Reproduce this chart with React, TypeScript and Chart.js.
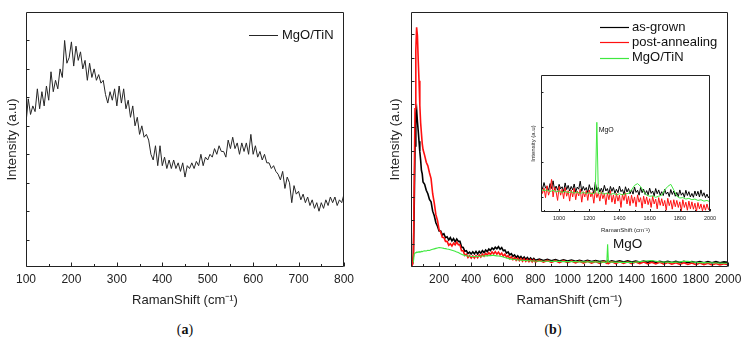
import React, { useEffect, useRef } from "react";
import { Chart, registerables } from "chart.js";
Chart.register(...registerables);

const FONT = "'Liberation Sans', Arial, Helvetica, sans-serif";
Chart.defaults.font.family = FONT;
Chart.defaults.color = "#222";

// ---------- Panel (a): MgO/TiN ----------
const X_A = [
  100,105,110,115,120,125,130,135,140,145,
  150,155,160,165,170,175,180,185,190,195,
  200,205,210,215,220,225,230,235,240,245,
  250,255,260,265,270,275,280,285,290,295,
  300,305,310,315,320,325,330,335,340,345,
  350,355,360,365,370,375,380,385,390,395,
  400,405,410,415,420,425,430,435,440,445,
  450,455,460,465,470,475,480,485,490,495,
  500,505,510,515,520,525,530,535,540,545,
  550,555,560,565,570,575,580,585,590,595,
  600,605,610,615,620,625,630,635,640,645,
  650,655,660,665,670,675,680,685,690,695,
  700,705,710,715,720,725,730,735,740,745,
  750,755,760,765,770,775,780,785,790,795,
  800
];
const Y_A_MGO_TIN = [
  5.1,5.95,5.4,5.7,5.5,6.3,5.6,6.2,5.7,6.4,
  5.9,6.9,6.2,6.6,6.3,7.0,6.7,8.0,7.2,7.4,
  7.95,7.1,7.8,7.3,7.6,7.0,7.3,6.6,7.2,6.7,
  7.0,6.6,6.8,6.5,6.6,6.1,5.8,6.2,5.9,6.3,
  5.7,6.4,5.8,6.3,5.6,5.9,5.3,5.7,5.0,5.3,
  4.7,5.0,4.6,4.7,4.5,4.0,3.8,4.3,3.6,4.3,
  3.6,3.9,3.5,3.8,3.5,3.8,3.5,3.7,3.4,3.7,
  3.2,3.6,3.5,3.7,3.5,3.75,3.6,4.0,3.6,3.9,
  3.8,4.0,3.9,4.2,4.0,4.3,4.1,4.1,3.9,4.5,
  4.2,4.6,4.2,4.4,4.0,4.4,4.1,4.4,4.0,4.7,
  4.0,4.3,3.9,4.1,3.8,4.0,3.7,3.7,3.5,3.6,
  3.4,3.3,3.1,3.4,2.8,3.2,3.0,2.3,2.9,2.6,
  2.7,2.4,2.6,2.3,2.5,2.2,2.4,2.1,2.3,2.0,
  2.3,2.1,2.4,2.2,2.5,2.3,2.5,2.2,2.4,2.3,
  2.6
];
const X_A_TICKS = [100, 200, 300, 400, 500, 600, 700, 800];
const X_A_MINOR = [150, 250, 350, 450, 550, 650, 750];
const Y_A_TICKS = [1, 2, 3, 4, 5, 6, 7, 8];

// ---------- Panel (b): main ----------
const X_B = [
  25,30,35,40,45,50,55,60,65,70,75,80,85,90,95,100,
  110,120,130,140,150,160,170,180,190,200,
  210,220,230,240,250,260,270,280,290,300,
  310,320,330,340,350,360,370,380,390,400,
  410,420,430,440,450,460,470,480,490,500,
  510,520,530,540,550,560,570,580,590,600,
  610,620,630,640,650,660,670,680,690,700,
  710,720,730,740,750,760,770,780,790,800,
  825,850,875,900,925,950,975,1000,
  1025,1050,1075,1100,1125,1150,1175,1200,
  1225,1245,1250,1255,1275,1300,1325,1350,1375,1400,
  1425,1450,1475,1500,1525,1550,1575,1600,
  1625,1650,1675,1700,1725,1750,1775,1800,
  1825,1850,1875,1900,1925,1950,1975,2000
];
const Y_B_AS_GROWN = [
  0.22,0.12,0.15,0.5,2.6,5.2,6.6,6.78,6.25,5.85,5.4,4.95,4.6,4.15,4.0,3.65,
  3.55,3.3,3.15,2.9,2.8,2.4,2.2,1.9,1.75,1.55,
  1.55,1.38,1.43,1.26,1.3,1.16,1.26,1.12,1.22,1.08,
  1.2,1.1,1.1,0.86,0.84,0.68,0.7,0.58,0.64,0.56,
  0.65,0.56,0.67,0.56,0.67,0.59,0.7,0.62,0.73,0.66,
  0.77,0.71,0.82,0.75,0.85,0.78,0.87,0.76,0.83,0.7,
  0.73,0.6,0.65,0.52,0.57,0.46,0.52,0.41,0.48,0.38,
  0.45,0.35,0.43,0.33,0.41,0.31,0.39,0.3,0.37,0.29,
  0.34,0.28,0.33,0.27,0.32,0.26,0.31,0.26,
  0.3,0.25,0.29,0.24,0.29,0.24,0.28,0.24,
  0.27,0.23,0.27,0.22,0.27,0.22,0.26,0.21,0.26,0.21,
  0.25,0.21,0.25,0.2,0.25,0.2,0.24,0.2,
  0.24,0.19,0.24,0.19,0.24,0.19,0.23,0.19,
  0.23,0.18,0.23,0.18,0.23,0.18,0.22,0.2
];
const Y_B_POST_ANNEALING = [
  0.2,0.1,0.12,0.6,3.5,6.8,9.3,10.3,9.95,8.9,8.0,6.95,6.2,5.75,5.3,5.05,
  4.8,4.5,4.35,4.05,3.8,3.15,2.75,2.25,2.0,1.6,
  1.5,1.28,1.27,1.1,1.1,0.93,1.0,0.9,1.03,0.95,
  1.07,0.96,0.95,0.7,0.7,0.5,0.55,0.41,0.49,0.38,
  0.48,0.38,0.49,0.4,0.52,0.43,0.55,0.47,0.59,0.51,
  0.62,0.53,0.65,0.56,0.66,0.55,0.64,0.52,0.6,0.47,
  0.55,0.42,0.49,0.36,0.44,0.32,0.4,0.29,0.38,0.27,
  0.36,0.25,0.35,0.24,0.33,0.23,0.32,0.22,0.31,0.21,
  0.29,0.21,0.28,0.2,0.27,0.19,0.27,0.19,
  0.26,0.18,0.25,0.17,0.25,0.17,0.24,0.16,
  0.24,0.16,0.23,0.15,0.23,0.15,0.22,0.15,0.22,0.14,
  0.21,0.14,0.21,0.13,0.2,0.13,0.2,0.12,
  0.19,0.12,0.18,0.11,0.18,0.11,0.17,0.1,
  0.17,0.1,0.16,0.09,0.15,0.09,0.14,0.1
];
const Y_B_MGO_TIN = [
  null,null,null,0.2,0.55,0.6,0.62,0.64,0.63,0.65,0.64,0.66,0.65,0.67,0.66,0.68,
  0.7,0.69,0.72,0.71,0.74,0.76,0.78,0.8,0.82,0.84,
  0.83,0.82,0.8,0.79,0.77,0.76,0.74,0.72,0.7,0.68,
  0.64,0.62,0.58,0.55,0.52,0.5,0.48,0.47,0.46,0.45,
  0.45,0.44,0.45,0.45,0.46,0.46,0.47,0.47,0.48,0.48,
  0.49,0.49,0.5,0.5,0.49,0.48,0.47,0.46,0.45,0.43,
  0.41,0.39,0.37,0.35,0.34,0.33,0.32,0.31,0.3,0.3,
  0.29,0.29,0.28,0.28,0.27,0.27,0.27,0.26,0.26,0.26,
  0.25,0.25,0.25,0.24,0.24,0.24,0.23,0.23,
  0.23,0.23,0.22,0.22,0.22,0.22,0.22,0.21,
  0.21,0.2,0.98,0.22,0.21,0.21,0.2,0.2,0.2,0.2,
  0.21,0.23,0.25,0.27,0.28,0.25,0.22,0.21,
  0.21,0.2,0.21,0.22,0.24,0.25,0.22,0.2,
  0.19,0.19,0.18,0.18,0.17,0.17,0.16,0.16
];
const X_B_TICKS = [200, 400, 600, 800, 1000, 1200, 1400, 1600, 1800, 2000];
const X_B_MINOR = [100, 300, 500, 700, 900, 1100, 1300, 1500, 1700, 1900];
const Y_B_TICKS = [1, 2, 3, 4, 5, 6, 7, 8, 9, 10];

// ---------- Panel (b): inset ----------
const X_I = [
  880,890,900,910,920,930,940,950,960,970,
  980,990,1000,1010,1020,1030,1040,1050,1060,1070,
  1080,1090,1100,1110,1120,1130,1140,1150,1160,1170,
  1180,1190,1200,1210,1220,1230,1240,1250,1260,1270,
  1280,1290,1300,1310,1320,1330,1340,1350,1360,1370,
  1380,1390,1400,1410,1420,1430,1440,1450,1460,1470,
  1480,1490,1500,1510,1520,1530,1540,1550,1560,1570,
  1580,1590,1600,1610,1620,1630,1640,1650,1660,1670,
  1680,1690,1700,1710,1720,1730,1740,1750,1760,1770,
  1780,1790,1800,1810,1820,1830,1840,1850,1860,1870,
  1880,1890,1900,1910,1920,1930,1940,1950,1960,1970,
  1980,1990,2000
];
const Y_I_AS_GROWN = [
  1.35,1.22,1.41,1.25,1.3,1.18,1.38,1.24,1.46,1.2,
  1.31,1.19,1.36,1.23,1.29,1.15,1.4,1.21,1.33,1.17,
  1.3,1.2,1.37,1.14,1.28,1.22,1.45,1.16,1.3,1.19,
  1.27,1.12,1.35,1.2,1.26,1.1,1.42,1.18,1.28,1.14,
  1.25,1.13,1.33,1.17,1.24,1.09,1.3,1.16,1.27,1.1,
  1.22,1.12,1.31,1.15,1.21,1.07,1.29,1.14,1.24,1.09,
  1.2,1.08,1.28,1.13,1.19,1.05,1.27,1.12,1.22,1.07,
  1.18,1.06,1.25,1.1,1.17,1.03,1.24,1.09,1.2,1.05,
  1.15,1.04,1.22,1.08,1.14,1.01,1.21,1.07,1.17,1.02,
  1.13,1.01,1.2,1.05,1.12,0.99,1.19,1.04,1.15,1.0,
  1.1,0.99,1.17,1.03,1.16,1.0,1.2,1.02,1.12,0.98,
  1.08,0.97,1.06
];
const Y_I_POST_ANNEALING = [
  1.3,1.1,1.25,0.98,1.32,1.05,1.2,1.5,1.0,1.28,
  1.15,0.9,1.3,1.05,1.22,0.95,1.27,1.02,1.18,0.88,
  1.2,1.0,1.25,0.92,1.17,1.03,1.22,0.85,1.15,1.0,
  1.18,0.9,1.2,1.0,1.13,0.82,1.2,0.98,1.12,0.88,
  1.15,0.95,1.1,0.78,1.12,0.92,1.18,0.85,1.06,0.8,
  1.1,0.88,1.05,0.7,1.08,0.9,1.12,0.8,1.02,0.75,
  1.05,0.82,1.0,0.72,1.06,0.85,0.98,0.68,1.02,0.8,
  1.0,0.78,0.95,0.7,1.02,0.8,0.94,0.66,0.98,0.76,
  0.95,0.74,0.9,0.62,0.96,0.75,0.9,0.65,0.92,0.72,
  0.9,0.7,0.86,0.6,0.92,0.7,0.85,0.62,0.88,0.66,
  0.86,0.65,0.82,0.58,0.84,0.66,0.8,0.6,0.78,0.62,
  0.8,0.64,0.7
];
const X_I_GREEN = [
  880,900,920,940,960,980,1000,1020,1040,1060,
  1080,1100,1120,1140,1160,1180,1200,1220,1240,1250,
  1260,1280,1300,1320,1340,1360,1380,1400,1420,1440,
  1460,1480,1500,1520,1540,1560,1580,1600,1620,1640,
  1660,1680,1700,1720,1740,1760,1780,1800,1820,1840,
  1860,1880,1900,1920,1940,1960,1980,2000
];
const Y_I_MGO_TIN = [
  1.22,1.18,1.2,1.15,1.19,1.14,1.17,1.13,1.16,1.12,
  1.15,1.11,1.14,1.1,1.13,1.1,1.12,1.09,1.12,3.13,
  1.1,1.12,1.08,1.11,1.07,1.1,1.06,1.09,1.06,1.09,
  1.1,1.2,1.33,1.38,1.3,1.15,1.05,1.02,1.03,0.99,
  1.02,1.05,1.2,1.3,1.36,1.2,1.02,0.97,0.98,0.94,
  0.96,0.92,0.94,0.9,0.92,0.88,0.9,0.86
];
const X_I_TICKS = [1000, 1200, 1400, 1600, 1800, 2000];
const X_I_MINOR = [900, 1100, 1300, 1500, 1700, 1900];
const Y_I_TICKS = [1, 2, 3, 4];

const SERIES_NAMES = ["as-grown", "post-annealing", "MgO/TiN"];
const COLORS = { black: "#000000", red: "#ff1010", green: "#3fe83f", gray: "#262626" };
const AXIS_TITLE_X = "RamanShift (cm\u207B\u00B9)";
const AXIS_TITLE_Y = "Intensity (a.u)";

function pts(xs: number[], ys: (number | null)[]) {
  return xs.map((x, i) => ({ x, y: ys[i] }));
}

const decorPlugin = {
  id: "decor",
  afterDatasetsDraw(chart: any, _args: any, o: any) {
    const { ctx, chartArea: a, scales } = chart;
    const sx = scales.x, sy = scales.y;
    ctx.save();
    ctx.strokeStyle = "#222";
    ctx.lineWidth = 1;
    const L = Math.round(a.left) + 0.5, R = Math.round(a.right) - 0.5;
    const T = Math.round(a.top) + 0.5, B = Math.round(a.bottom) - 0.5;
    ctx.beginPath();
    ctx.rect(L, T, R - L, B - T);
    for (const v of o.xMajor || []) {
      const p = Math.round(sx.getPixelForValue(v)) + 0.5;
      ctx.moveTo(p, B); ctx.lineTo(p, B - o.majorLen);
    }
    for (const v of o.xMinor || []) {
      const p = Math.round(sx.getPixelForValue(v)) + 0.5;
      ctx.moveTo(p, B); ctx.lineTo(p, B - o.minorLen);
    }
    for (const v of o.yMajor || []) {
      const p = Math.round(sy.getPixelForValue(v)) + 0.5;
      ctx.moveTo(L, p); ctx.lineTo(L + o.yLen, p);
    }
    ctx.stroke();
    if (o.legend) {
      ctx.font = `${o.legendFont}px ${FONT}`;
      ctx.textBaseline = "middle";
      ctx.textAlign = "left";
      o.legend.forEach((it: any, i: number) => {
        const y = a.top + o.legendTop + i * o.legendRow;
        const x0 = a.right - o.legendRight;
        ctx.strokeStyle = it.color;
        ctx.lineWidth = it.width || 1;
        ctx.beginPath();
        ctx.moveTo(x0, Math.round(y) + 0.5);
        ctx.lineTo(x0 + o.lineLen, Math.round(y) + 0.5);
        ctx.stroke();
        ctx.fillStyle = "#111";
        ctx.fillText(it.label, x0 + o.lineLen + o.gap, y);
      });
    }
    for (const n of o.notes || []) {
      ctx.font = `${n.size}px ${FONT}`;
      ctx.fillStyle = "#111";
      ctx.textAlign = "left";
      ctx.textBaseline = "middle";
      ctx.fillText(n.text, sx.getPixelForValue(n.x), sy.getPixelForValue(n.y));
    }
    ctx.restore();
  },
};

function xScale(min: number, max: number, ticks: number[], o: any) {
  return {
    type: "linear",
    min,
    max,
    afterBuildTicks: (s: any) => { s.ticks = ticks.map((v) => ({ value: v })); },
    afterFit: (s: any) => { s.height = o.height; },
    ticks: {
      font: { size: o.tickSize }, color: "#222", padding: o.tickPad, maxRotation: 0, autoSkip: false,
      callback: (v: any) => String(v),
    },
    grid: { display: false, drawTicks: false },
    border: { display: false },
    title: { display: true, text: AXIS_TITLE_X, color: "#222", font: { size: o.titleSize }, padding: { top: 0, bottom: o.titlePad } },
  };
}
function yScale(min: number, max: number, o: any) {
  return {
    type: "linear",
    min,
    max,
    afterFit: (s: any) => { s.width = o.width; },
    ticks: { display: false },
    grid: { display: false, drawTicks: false },
    border: { display: false },
    title: { display: true, text: AXIS_TITLE_Y, color: "#222", font: { size: o.titleSize }, padding: { top: o.titlePad, bottom: 0 } },
  };
}

function line(label: string, data: any[], color: string, width: number, order: number) {
  return { label, data, borderColor: color, borderWidth: width, pointRadius: 0, tension: 0, fill: false, order, spanGaps: false };
}

function configA() {
  return {
    type: "line",
    data: { datasets: [line("MgO/TiN", pts(X_A, Y_A_MGO_TIN), COLORS.gray, 1, 0)] },
    options: {
      animation: false, responsive: false,
      layout: { padding: { left: 0, top: 12, right: 16, bottom: 0 } },
      plugins: {
        legend: { display: false }, tooltip: { enabled: false },
        decor: {
          xMajor: X_A_TICKS, xMinor: X_A_MINOR, yMajor: Y_A_TICKS, majorLen: 4, minorLen: 2.5, yLen: 3,
          legend: [{ label: "MgO/TiN", color: COLORS.gray, width: 1 }],
          legendFont: 13, legendTop: 23, legendRow: 15, legendRight: 95, lineLen: 29, gap: 4,
        },
      },
      scales: {
        x: xScale(100, 800, X_A_TICKS, { height: 51, tickSize: 12, tickPad: 5, titleSize: 13, titlePad: 10 }),
        y: yScale(0.04, 9, { width: 26, titleSize: 13.5, titlePad: 3.9 }),
      },
    },
    plugins: [decorPlugin],
  };
}

function configB() {
  return {
    type: "line",
    data: {
      datasets: [
        line(SERIES_NAMES[0], pts(X_B, Y_B_AS_GROWN), COLORS.black, 1.6, 2),
        line(SERIES_NAMES[1], pts(X_B, Y_B_POST_ANNEALING), COLORS.red, 1.6, 1),
        line(SERIES_NAMES[2], pts(X_B, Y_B_MGO_TIN), COLORS.green, 1.1, 0),
      ],
    },
    options: {
      animation: false, responsive: false,
      layout: { padding: { left: 0, top: 12, right: 19, bottom: 0 } },
      plugins: {
        legend: { display: false }, tooltip: { enabled: false },
        decor: {
          xMajor: X_B_TICKS, xMinor: X_B_MINOR, yMajor: Y_B_TICKS, majorLen: 4, minorLen: 2.5, yLen: 3,
          legend: [
            { label: SERIES_NAMES[0], color: COLORS.black, width: 1.2 },
            { label: SERIES_NAMES[1], color: COLORS.red, width: 1.2 },
            { label: SERIES_NAMES[2], color: COLORS.green, width: 1.2 },
          ],
          legendFont: 13, legendTop: 15, legendRow: 15.3, legendRight: 128, lineLen: 29, gap: 3,
          notes: [{ text: "MgO", x: 1283, y: 0.99, size: 13.5 }],
        },
      },
      scales: {
        x: xScale(25, 2000, X_B_TICKS, { height: 51, tickSize: 12, tickPad: 5, titleSize: 13, titlePad: 10 }),
        y: yScale(0, 10.96, { width: 41, titleSize: 13.5, titlePad: 16.9 }),
      },
    },
    plugins: [decorPlugin],
  };
}

function configInset() {
  return {
    type: "line",
    data: {
      datasets: [
        line(SERIES_NAMES[0], pts(X_I, Y_I_AS_GROWN), COLORS.black, 1, 2),
        line(SERIES_NAMES[1], pts(X_I, Y_I_POST_ANNEALING), COLORS.red, 1, 1),
        line(SERIES_NAMES[2], pts(X_I_GREEN, Y_I_MGO_TIN), COLORS.green, 1, 0),
      ],
    },
    options: {
      animation: false, responsive: false,
      layout: { padding: { left: 0, top: 10, right: 10, bottom: 0 } },
      plugins: {
        legend: { display: false }, tooltip: { enabled: false },
        decor: {
          xMajor: X_I_TICKS, xMinor: X_I_MINOR, yMajor: Y_I_TICKS, majorLen: 2.5, minorLen: 1.5, yLen: 2,
          notes: [{ text: "MgO", x: 1262, y: 2.91, size: 7 }],
        },
      },
      scales: {
        x: xScale(880, 2000, X_I_TICKS, { height: 28, tickSize: 5.5, tickPad: 3.5, titleSize: 6, titlePad: 6.2 }),
        y: yScale(0.57, 4.48, { width: 21, titleSize: 6, titlePad: 9.4 }),
      },
    },
    plugins: [decorPlugin],
  };
}

function ChartCanvas({ make, left, top, width, height }: any) {
  const ref = useRef<HTMLCanvasElement | null>(null);
  useEffect(() => {
    const c = new Chart(ref.current as HTMLCanvasElement, make() as any);
    return () => c.destroy();
  }, []);
  return (
    <canvas
      ref={ref}
      width={width}
      height={height}
      style={{ position: "absolute", left, top, width, height, display: "block" }}
    />
  );
}

const captionStyle: any = {
  position: "absolute",
  top: 321,
  fontFamily: "'Liberation Serif', 'Times New Roman', serif",
  fontSize: 14,
  lineHeight: "18px",
  textAlign: "center",
  color: "#111",
};

export default function App() {
  return (
    <div style={{ position: "fixed", left: 0, top: 0, width: 747, height: 349, background: "#fff", overflow: "hidden" }}>
      <ChartCanvas make={configA} left={0} top={0} width={360} height={318} />
      <ChartCanvas make={configB} left={370} top={0} width={377} height={318} />
      <ChartCanvas make={configInset} left={520} top={65} width={200} height={175} />
      <div style={{ ...captionStyle, left: 0, width: 370 }}>(<b>a</b>)</div>
      <div style={{ ...captionStyle, left: 370, width: 366 }}>(<b>b</b>)</div>
    </div>
  );
}
